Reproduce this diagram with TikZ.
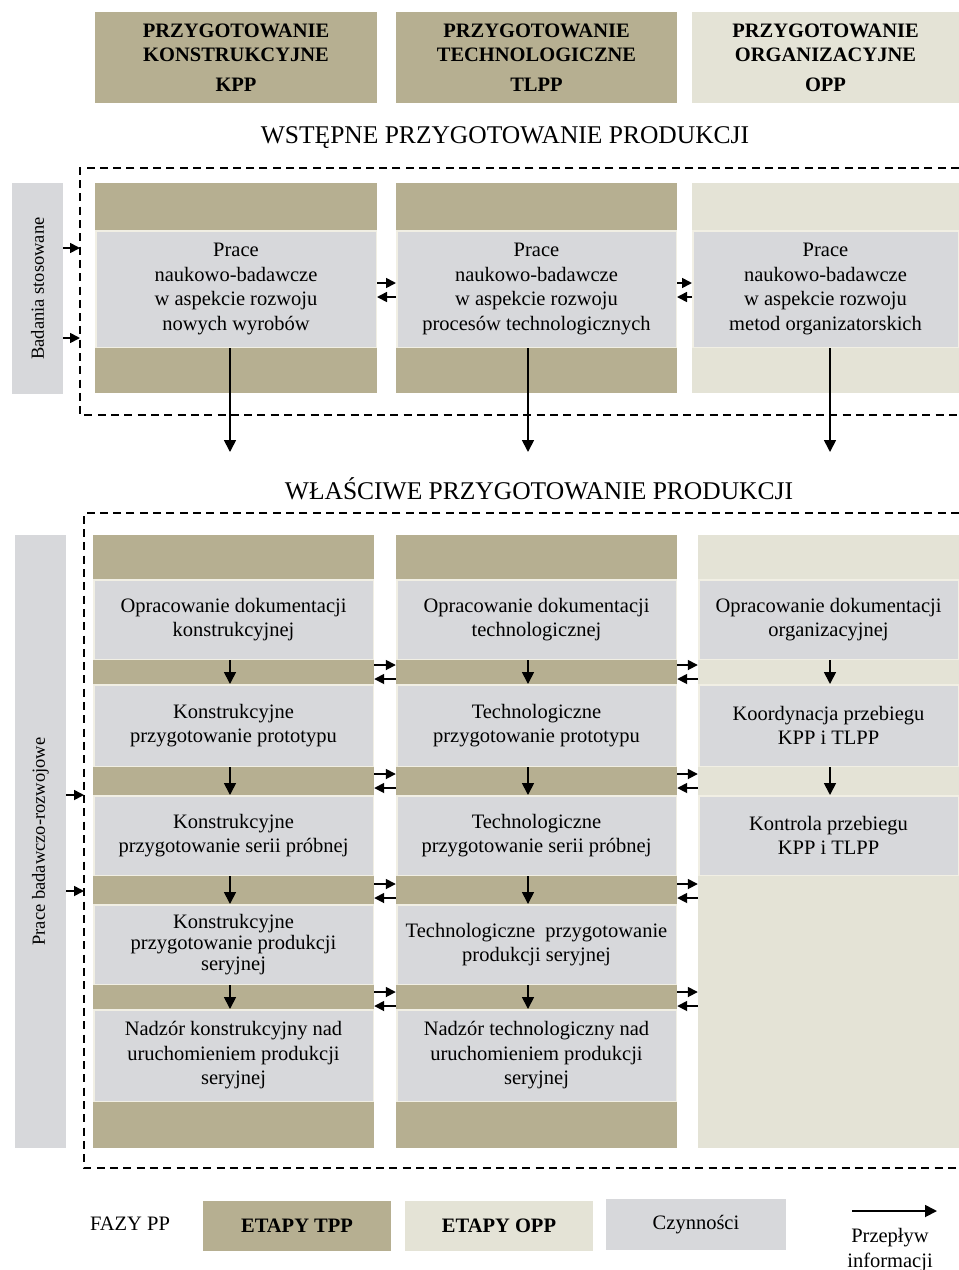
\documentclass[tikz,border=0pt]{standalone}
\usepackage{fontspec}
\setmainfont{Liberation Serif}
\usetikzlibrary{arrows.meta,calc}
\definecolor{tanPP}{RGB}{182,175,145}
\definecolor{beigePP}{RGB}{228,227,214}
\definecolor{grayPP}{RGB}{215,216,219}
\definecolor{sepPP}{RGB}{241,239,228}
\tikzset{header/.style={fill=tanPP, inner sep=0pt, minimum height=91pt,
        align=center, font=\fontsize{20.5}{24}\selectfont\bfseries},
    phase/.style={fill=tanPP, inner sep=0pt},
    czyn/.style={fill=grayPP, draw=sepPP, line width=1.5pt, inner sep=0pt,
        align=center, font=\fontsize{20.5}{24.5}\selectfont},
    sideLabel/.style={fill=grayPP, inner sep=0pt, rotate=90, minimum height=51pt,
        font=\fontsize{18.5}{22}\selectfont},
    title/.style={font=\fontsize{25.5}{30}\selectfont},
    flow/.style={line width=1.7pt, -{Triangle[length=12pt,width=12pt]}},
    flowSide/.style={line width=1.7pt, -{Triangle[length=10pt,width=10pt]}},
    frame/.style={line width=1.4pt, dash pattern=on 8pt off 5.3pt},
    }

\begin{document}
\begin{tikzpicture}[x=1pt,y=-1pt]
	\useasboundingbox (0,0) rectangle (959,1270);
	% naglowki
	\node[header, minimum width=282pt] (headKPP) at (236,57.5) {PRZYGOTOWANIE\\KONSTRUKCYJNE\\[6pt]KPP};
	\node[header, minimum width=281pt] (headTLPP) at (536.5,57.5) {PRZYGOTOWANIE\\TECHNOLOGICZNE\\[6pt]TLPP};
	\node[header, fill=beigePP, minimum width=267pt] (headOPP) at (825.5,57.5) {PRZYGOTOWANIE\\ORGANIZACYJNE\\[6pt]OPP};

	% wstepne PP
	\node[title] (titleWstepne) at (505,138) {WSTĘPNE PRZYGOTOWANIE PRODUKCJI};
	\node[sideLabel, minimum width=211pt] (boxBadania) at (37.5,288.5) {Badania stosowane};
	\draw[frame] (959,168) -- (80,168) -- (80,415) -- (959,415);
	\node[phase, minimum width=282pt, minimum height=210pt] (upKPP) at (236,288) {};
	\node[phase, minimum width=281pt, minimum height=210pt] (upTLPP) at (536.5,288) {};
	\node[phase, fill=beigePP, minimum width=267pt, minimum height=210pt] (upOPP) at (825.5,288) {};
	\node[czyn, minimum width=280.5pt, minimum height=116.5pt] (praceKPP) at (236,289)
		{Prace\\naukowo-badawcze\\w aspekcie rozwoju\\nowych wyrobów};
	\node[czyn, minimum width=279.5pt, minimum height=116.5pt] (praceTLPP) at (536.5,289)
		{Prace\\naukowo-badawcze\\w aspekcie rozwoju\\procesów technologicznych};
	\node[czyn, minimum width=265.5pt, minimum height=116.5pt] (praceOPP) at (825.5,289)
		{Prace\\naukowo-badawcze\\w aspekcie rozwoju\\metod organizatorskich};

	\coordinate (bsWe1) at (80,248);
	\coordinate (bsWe2) at (80,338);
	\draw[flowSide] (boxBadania.south |- bsWe1) -- (bsWe1);
	\draw[flowSide] (boxBadania.south |- bsWe2) -- (bsWe2);
	\draw[flowSide] ($(praceKPP.east)+(0,-6)$) -- ($(praceTLPP.west)+(0,-6)$);
	\draw[flowSide] ($(praceTLPP.west)+(0,8)$) -- ($(praceKPP.east)+(0,8)$);
	\draw[flowSide] ($(praceTLPP.east)+(0,-6)$) -- ($(praceOPP.west)+(0,-6)$);
	\draw[flowSide] ($(praceOPP.west)+(0,8)$) -- ($(praceTLPP.east)+(0,8)$);

	\coordinate (osKPP) at (230,0);
	\coordinate (osTLPP) at (528,0);
	\coordinate (osOPP) at (830,0);
	\coordinate (wejscie) at (0,452);
	\draw[flow] (osKPP |- praceKPP.south) -- (osKPP |- wejscie);
	\draw[flow] (osTLPP |- praceTLPP.south) -- (osTLPP |- wejscie);
	\draw[flow] (osOPP |- praceOPP.south) -- (osOPP |- wejscie);

	% wlasciwe PP
	\node[title] (titleWlasciwe) at (539,489) {WŁAŚCIWE PRZYGOTOWANIE PRODUKCJI};
	\node[sideLabel, minimum width=613pt] (boxPrace) at (40.5,841.5) {Prace badawczo-rozwojowe};
	\draw[frame] (959,513) -- (84,513) -- (84,1168) -- (959,1168);
	\node[phase, minimum width=281pt, minimum height=613pt] (dolKPP) at (233.5,841.5) {};
	\node[phase, minimum width=281pt, minimum height=613pt] (dolTLPP) at (536.5,841.5) {};
	\node[phase, fill=beigePP, minimum width=261pt, minimum height=613pt] (dolOPP) at (828.5,841.5) {};

	\node[czyn, minimum width=279.5pt, minimum height=79.5pt] (kppDok) at (233.5,619.5)
		{Opracowanie dokumentacji\\konstrukcyjnej};
	\node[czyn, minimum width=279.5pt, minimum height=81.5pt] (kppProto) at (233.5,725.5)
		{Konstrukcyjne\\przygotowanie prototypu};
	\node[czyn, minimum width=279.5pt, minimum height=79.5pt] (kppSeria) at (233.5,835.5)
		{Konstrukcyjne\\przygotowanie serii próbnej};
	\node[czyn, minimum width=279.5pt, minimum height=79.5pt, font=\fontsize{20.5}{21}\selectfont] (kppSer) at (233.5,944.5)
		{Konstrukcyjne\\przygotowanie produkcji\\seryjnej};
	\node[czyn, minimum width=279.5pt, minimum height=91.5pt] (kppNadzor) at (233.5,1055.5)
		{Nadzór konstrukcyjny nad\\uruchomieniem produkcji\\seryjnej};

	\node[czyn, minimum width=279.5pt, minimum height=79.5pt] (tlppDok) at (536.5,619.5)
		{Opracowanie dokumentacji\\technologicznej};
	\node[czyn, minimum width=279.5pt, minimum height=81.5pt] (tlppProto) at (536.5,725.5)
		{Technologiczne\\przygotowanie prototypu};
	\node[czyn, minimum width=279.5pt, minimum height=79.5pt] (tlppSeria) at (536.5,835.5)
		{Technologiczne\\przygotowanie serii próbnej};
	\node[czyn, minimum width=279.5pt, minimum height=79.5pt] (tlppSer) at (536.5,944.5)
		{Technologiczne\ \ przygotowanie\\produkcji seryjnej};
	\node[czyn, minimum width=279.5pt, minimum height=91.5pt] (tlppNadzor) at (536.5,1055.5)
		{Nadzór technologiczny nad\\uruchomieniem produkcji\\seryjnej};

	\node[czyn, minimum width=259.5pt, minimum height=79.5pt] (oppDok) at (828.5,619.5)
		{Opracowanie dokumentacji\\organizacyjnej};
	\node[czyn, minimum width=259.5pt, minimum height=81.5pt] (oppKoord) at (828.5,725.5)
		{Koordynacja przebiegu\\KPP i TLPP};
	\node[czyn, minimum width=259.5pt, minimum height=79.5pt] (oppKontrola) at (828.5,835.5)
		{Kontrola przebiegu\\KPP i TLPP};

	\coordinate (bpWe1) at (84,795);
	\coordinate (bpWe2) at (84,891);
	\draw[flowSide] (boxPrace.south |- bpWe1) -- (bpWe1);
	\draw[flowSide] (boxPrace.south |- bpWe2) -- (bpWe2);

	\draw[flow] (osKPP |- kppDok.south) -- (osKPP |- kppProto.north);
	\draw[flow] (osKPP |- kppProto.south) -- (osKPP |- kppSeria.north);
	\draw[flow] (osKPP |- kppSeria.south) -- (osKPP |- kppSer.north);
	\draw[flow] (osKPP |- kppSer.south) -- (osKPP |- kppNadzor.north);
	\draw[flow] (osTLPP |- tlppDok.south) -- (osTLPP |- tlppProto.north);
	\draw[flow] (osTLPP |- tlppProto.south) -- (osTLPP |- tlppSeria.north);
	\draw[flow] (osTLPP |- tlppSeria.south) -- (osTLPP |- tlppSer.north);
	\draw[flow] (osTLPP |- tlppSer.south) -- (osTLPP |- tlppNadzor.north);
	\draw[flow] (osOPP |- oppDok.south) -- (osOPP |- oppKoord.north);
	\draw[flow] (osOPP |- oppKoord.south) -- (osOPP |- oppKontrola.north);

	\coordinate (pas1) at ($(kppDok.south)!.5!(kppProto.north)$);
	\coordinate (pas2) at ($(kppProto.south)!.5!(kppSeria.north)$);
	\coordinate (pas3) at ($(kppSeria.south)!.5!(kppSer.north)$);
	\coordinate (pas4) at ($(kppSer.south)!.5!(kppNadzor.north)$);
	\draw[flowSide] ($(dolKPP.east |- pas1)+(0,-7)$) -- ($(dolTLPP.west |- pas1)+(0,-7)$);
	\draw[flowSide] ($(dolTLPP.west |- pas1)+(0,7)$) -- ($(dolKPP.east |- pas1)+(0,7)$);
	\draw[flowSide] ($(dolKPP.east |- pas2)+(0,-7)$) -- ($(dolTLPP.west |- pas2)+(0,-7)$);
	\draw[flowSide] ($(dolTLPP.west |- pas2)+(0,7)$) -- ($(dolKPP.east |- pas2)+(0,7)$);
	\draw[flowSide] ($(dolKPP.east |- pas3)+(0,-6)$) -- ($(dolTLPP.west |- pas3)+(0,-6)$);
	\draw[flowSide] ($(dolTLPP.west |- pas3)+(0,8)$) -- ($(dolKPP.east |- pas3)+(0,8)$);
	\draw[flowSide] ($(dolKPP.east |- pas4)+(0,-5)$) -- ($(dolTLPP.west |- pas4)+(0,-5)$);
	\draw[flowSide] ($(dolTLPP.west |- pas4)+(0,9)$) -- ($(dolKPP.east |- pas4)+(0,9)$);
	\draw[flowSide] ($(dolTLPP.east |- pas1)+(0,-7)$) -- ($(dolOPP.west |- pas1)+(0,-7)$);
	\draw[flowSide] ($(dolOPP.west |- pas1)+(0,7)$) -- ($(dolTLPP.east |- pas1)+(0,7)$);
	\draw[flowSide] ($(dolTLPP.east |- pas2)+(0,-7)$) -- ($(dolOPP.west |- pas2)+(0,-7)$);
	\draw[flowSide] ($(dolOPP.west |- pas2)+(0,7)$) -- ($(dolTLPP.east |- pas2)+(0,7)$);
	\draw[flowSide] ($(dolTLPP.east |- pas3)+(0,-6)$) -- ($(dolOPP.west |- pas3)+(0,-6)$);
	\draw[flowSide] ($(dolOPP.west |- pas3)+(0,8)$) -- ($(dolTLPP.east |- pas3)+(0,8)$);
	\draw[flowSide] ($(dolTLPP.east |- pas4)+(0,-5)$) -- ($(dolOPP.west |- pas4)+(0,-5)$);
	\draw[flowSide] ($(dolOPP.west |- pas4)+(0,9)$) -- ($(dolTLPP.east |- pas4)+(0,9)$);

	% legenda
	\node[font=\fontsize{20.5}{24.5}\selectfont] (fazy) at (130,1224) {FAZY PP};
	\node[header, minimum width=188pt, minimum height=50pt] (etapyTPP) at (297,1226) {ETAPY TPP};
	\node[header, fill=beigePP, minimum width=188pt, minimum height=50pt] (etapyOPP) at (499,1226) {ETAPY OPP};
	\node[czyn, draw=none, minimum width=180pt, minimum height=51pt] (czynnosci) at (696,1224.5) {Czynności};
	\node[align=center, font=\fontsize{20.5}{25}\selectfont] (przeplyw) at (890,1250) {Przepływ\\informacji};
	\coordinate (legStart) at (852,1211);
	\coordinate (legEnd) at (937,1211);
	\draw[flow, line width=1.8pt] (legStart) -- (legEnd);
\end{tikzpicture}
\end{document}
